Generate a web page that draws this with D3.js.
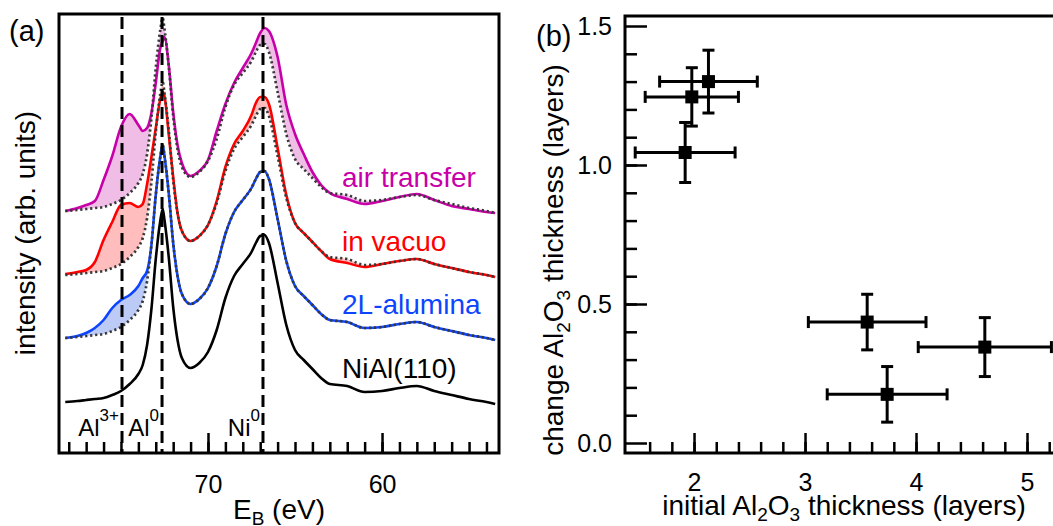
<!DOCTYPE html>
<html>
<head>
<meta charset="utf-8">
<script src="https://cdn.jsdelivr.net/npm/d3@7"></script>
<style>
body { margin: 0; background: #fff; }
text { font-family: "Liberation Sans", Arial, Helvetica, sans-serif; }
</style>
</head>
<body>
<svg id="chart" width="1053" height="526"></svg>
<script>
/* panel (a) data: binding energy (eV) and stacked intensities (arb. units) */
var energy = [78.2, 77.5, 77, 76.5, 76, 75.5, 75, 74.5, 74, 73.75, 73.5, 73.25, 73, 72.75, 72.6, 72.5, 72.25, 72, 71.75, 71.5,
	71, 70.5, 70, 69.5, 69, 68.5, 68, 67.5, 67.25, 67, 66.75, 66.5, 66, 65.5, 65, 64.5, 64, 63.5, 63, 62,
	61, 60, 59, 58, 57, 56, 55, 54, 53.5];
var nial = [51, 52, 53, 54, 55, 58, 62, 69, 79, 88, 108, 144, 194, 231, 244, 233, 195, 146, 113, 95,
	85, 90, 101, 123, 155, 177, 189, 201, 210, 217, 218, 210, 170, 128, 103, 93, 84, 75, 69, 67,
	61, 62, 65, 67, 62, 58, 54, 51, 49];
var alumina = [115, 117, 120, 125, 133, 145, 153, 158, 167, 175, 182, 208, 258, 295, 308, 297, 259, 210, 177, 159,
	149, 154, 165, 187, 219, 241, 253, 265, 274, 281, 282, 274, 234, 192, 167, 157, 148, 139, 133, 131,
	125, 126, 129, 131, 126, 122, 118, 115, 113];
var alumina_ref = [115, 116, 117, 118, 119, 122, 126, 133, 143, 152, 172, 208, 258, 295, 308, 297, 259, 210, 177, 159,
	149, 154, 165, 187, 219, 241, 253, 265, 274, 281, 282, 274, 234, 192, 167, 157, 148, 139, 133, 131,
	125, 126, 129, 131, 126, 122, 118, 115, 113];
var vacuo = [179, 181, 183, 191, 213, 231, 248, 250, 246, 249, 269, 296, 325, 353, 361, 357, 318, 276, 240, 222,
	212, 217, 228, 252, 286, 309, 322, 338, 350, 356, 356, 349, 305, 258, 230, 220, 211, 202, 194, 190,
	186, 189, 192, 194, 189, 185, 181, 178, 176];
var vacuo_ref = [178, 179, 180, 181, 182, 185, 189, 196, 206, 215, 235, 271, 321, 358, 371, 360, 322, 273, 240, 222,
	212, 217, 228, 250, 282, 304, 316, 328, 337, 344, 345, 337, 297, 255, 230, 220, 211, 202, 196, 194,
	188, 189, 192, 194, 189, 185, 181, 178, 176];
var air = [242, 245, 248, 252, 273, 297, 326, 339, 328, 322, 325, 340, 370, 404, 412, 416, 387, 341, 308, 290,
	277, 282, 293, 322, 349, 370, 385, 400, 410, 420, 425, 422, 396, 348, 319, 299, 281, 268, 260, 254,
	249, 252, 256, 259, 253, 247, 244, 241, 240];
var air_ref = [242, 243, 244, 245, 246, 249, 253, 260, 270, 279, 299, 335, 385, 422, 435, 424, 386, 337, 304, 286,
	276, 281, 292, 314, 346, 368, 380, 392, 401, 408, 409, 401, 361, 319, 294, 284, 275, 266, 260, 258,
	252, 253, 256, 258, 253, 249, 245, 242, 240];
var seriesNames = ['air transfer', 'in vacuo', '2L-alumina', 'NiAl(110)'];
var peakEnergy = [74.94, 72.64, 66.84];
var peakName = ['Al', 'Al', 'Ni'];
var peakSup = ['3+', '0', '0'];
var energyTicks = [70, 60];

/* panel (b) data */
var initialThk = [2.13, 1.98, 1.92, 3.56, 3.74, 4.62];
var initialErr = [0.44, 0.42, 0.45, 0.53, 0.54, 0.60];
var changeThk = [1.30, 1.245, 1.045, 0.435, 0.175, 0.345];
var changeErr = [0.113, 0.105, 0.108, 0.10, 0.10, 0.106];
var thkTicks = [2, 3, 4, 5];
var changeTicks = [0.0, 0.5, 1.0, 1.5];

var svg = d3.select('#chart');

/* ---------- panel (a) ---------- */
var xa = d3.scaleLinear().domain([78.56, 53.28]).range([59, 499]);
var ya = d3.scaleLinear().domain([0, 439]).range([453, 14]);

var ga = svg.append('g');

function rows(solid, ref) {
	return energy.map(function (e, i) { return {e: e, s: solid[i], r: ref ? ref[i] : solid[i]}; });
}

var spectra = [
	{name: seriesNames[0], solid: air, ref: air_ref, color: '#c800a8', fill: '#efbde6', label: 187},
	{name: seriesNames[1], solid: vacuo, ref: vacuo_ref, color: '#ff0000', fill: '#ffbdbd', label: 251},
	{name: seriesNames[2], solid: alumina, ref: alumina_ref, color: '#0d45ff', fill: '#bccaf6', label: 314},
	{name: seriesNames[3], solid: nial, ref: null, color: '#000000', fill: null, label: 378}
];

var area = d3.area()
	.x(function (d) { return xa(d.e); })
	.y0(function (d) { return ya(d.r); })
	.y1(function (d) { return ya(d.s); })
	.curve(d3.curveMonotoneX);
var lineS = d3.line()
	.x(function (d) { return xa(d.e); })
	.y(function (d) { return ya(d.s); })
	.curve(d3.curveMonotoneX);
var lineR = d3.line()
	.x(function (d) { return xa(d.e); })
	.y(function (d) { return ya(d.r); })
	.curve(d3.curveMonotoneX);

spectra.forEach(function (sp) {
	var data = rows(sp.solid, sp.ref);
	if (sp.fill) {
		ga.append('path').datum(data).attr('d', area).attr('fill', sp.fill).attr('stroke', 'none');
	}
	ga.append('path').datum(data).attr('d', lineS)
		.attr('fill', 'none').attr('stroke', sp.color).attr('stroke-width', 2.6);
	if (sp.ref) {
		ga.append('path').datum(data).attr('d', lineR)
			.attr('fill', 'none').attr('stroke', '#383838').attr('stroke-width', 2.7)
			.attr('stroke-dasharray', '2.2,2.8');
	}
	ga.append('text')
		.attr('x', 342).attr('y', sp.label)
		.attr('font-size', 28).attr('fill', sp.color)
		.text(sp.name);
});

// peak position markers
peakEnergy.forEach(function (e, i) {
	ga.append('line')
		.attr('x1', xa(e)).attr('x2', xa(e))
		.attr('y1', 17).attr('y2', 452)
		.attr('stroke', '#000').attr('stroke-width', 3)
		.attr('stroke-dasharray', '12,6');
	var t = ga.append('text')
		.attr('x', xa(e) - 3).attr('y', 436)
		.attr('text-anchor', 'end')
		.attr('font-size', 24);
	t.append('tspan').text(peakName[i]);
	t.append('tspan').attr('font-size', 17).attr('dy', -15).text(peakSup[i]);
});

// energy axis
var axA = ga.append('g').attr('transform', 'translate(0,453)');
axA.append('g').call(d3.axisBottom(xa).tickValues(d3.range(54, 79)).tickSize(-11).tickFormat(''));
axA.append('g').call(d3.axisBottom(xa).tickValues(energyTicks).tickSize(-20).tickPadding(22).tickFormat(d3.format('d')));
axA.selectAll('.domain').remove();
axA.selectAll('line').attr('stroke-width', 2.5);
axA.selectAll('text').attr('font-size', 25).attr('font-family', null);

ga.append('rect')
	.attr('x', 59).attr('y', 14).attr('width', 440).attr('height', 439)
	.attr('fill', 'none').attr('stroke', '#000').attr('stroke-width', 3);

var xt = ga.append('text').attr('x', 279).attr('y', 519).attr('text-anchor', 'middle').attr('font-size', 28);
xt.append('tspan').text('E');
xt.append('tspan').attr('font-size', 19).attr('dy', 6).text('B');
xt.append('tspan').attr('dy', -6).text(' (eV)');

ga.append('text')
	.attr('transform', 'translate(35,233) rotate(-90)')
	.attr('text-anchor', 'middle').attr('font-size', 28)
	.text('intensity (arb. units)');

ga.append('text').attr('x', 9).attr('y', 41).attr('font-size', 29).text('(a)');

/* ---------- panel (b) ---------- */
var xb = d3.scaleLinear().domain([1.378, 5.3]).range([625, 1060.3]);
var yb = d3.scaleLinear().domain([0, 1.5]).range([443, 26]);
var gb = svg.append('g');

var axBx = gb.append('g').attr('transform', 'translate(0,453)');
axBx.append('g').call(d3.axisBottom(xb).tickValues(d3.range(1.6, 5.3, 0.2)).tickSize(-11).tickFormat(''));
axBx.append('g').call(d3.axisBottom(xb).tickValues(thkTicks).tickSize(-20).tickPadding(20).tickFormat(d3.format('d')));
var axBy = gb.append('g').attr('transform', 'translate(625,0)');
axBy.append('g').call(d3.axisLeft(yb).tickValues(d3.range(0.1, 1.5, 0.1)).tickSize(-12).tickFormat(''));
axBy.append('g').call(d3.axisLeft(yb).tickValues(changeTicks).tickSize(-22).tickPadding(13).tickFormat(d3.format('.1f')));
gb.selectAll('.domain').remove();
gb.selectAll('.tick line').attr('stroke-width', 2.5);
gb.selectAll('.tick text').attr('font-size', 25).attr('font-family', null);

gb.append('path')
	.attr('d', 'M1060,16H625V453H1060')
	.attr('fill', 'none').attr('stroke', '#000').attr('stroke-width', 3);

var pts = initialThk.map(function (x, i) {
	return {x: x, y: changeThk[i], ex: initialErr[i], ey: changeErr[i]};
});
var pg = gb.selectAll('.pt').data(pts).enter().append('g').attr('class', 'pt')
	.attr('stroke', '#000').attr('stroke-width', 3);
pg.append('line')
	.attr('x1', function (d) { return xb(d.x - d.ex); })
	.attr('x2', function (d) { return xb(d.x + d.ex); })
	.attr('y1', function (d) { return yb(d.y); })
	.attr('y2', function (d) { return yb(d.y); });
pg.append('line')
	.attr('x1', function (d) { return xb(d.x); })
	.attr('x2', function (d) { return xb(d.x); })
	.attr('y1', function (d) { return yb(d.y - d.ey); })
	.attr('y2', function (d) { return yb(d.y + d.ey); });
[-1, 1].forEach(function (s) {
	pg.append('line')
		.attr('x1', function (d) { return xb(d.x + s * d.ex); })
		.attr('x2', function (d) { return xb(d.x + s * d.ex); })
		.attr('y1', function (d) { return yb(d.y) - 6; })
		.attr('y2', function (d) { return yb(d.y) + 6; });
	pg.append('line')
		.attr('x1', function (d) { return xb(d.x) - 6; })
		.attr('x2', function (d) { return xb(d.x) + 6; })
		.attr('y1', function (d) { return yb(d.y + s * d.ey); })
		.attr('y2', function (d) { return yb(d.y + s * d.ey); });
});
pg.append('rect')
	.attr('x', function (d) { return xb(d.x) - 6.5; })
	.attr('y', function (d) { return yb(d.y) - 6.5; })
	.attr('width', 13).attr('height', 13)
	.attr('fill', '#000').attr('stroke', 'none');

var bx = gb.append('text').attr('x', 844).attr('y', 515).attr('text-anchor', 'middle').attr('font-size', 28);
bx.append('tspan').text('initial Al');
bx.append('tspan').attr('font-size', 19).attr('dy', 6).text('2');
bx.append('tspan').attr('dy', -6).text('O');
bx.append('tspan').attr('font-size', 19).attr('dy', 6).text('3');
bx.append('tspan').attr('dy', -6).text(' thickness (layers)');

var by = gb.append('text').attr('transform', 'translate(563,260) rotate(-90)')
	.attr('text-anchor', 'middle').attr('font-size', 28);
by.append('tspan').text('change Al');
by.append('tspan').attr('font-size', 19).attr('dy', 7).text('2');
by.append('tspan').attr('dy', -7).text('O');
by.append('tspan').attr('font-size', 19).attr('dy', 7).text('3');
by.append('tspan').attr('dy', -7).text(' thickness (layers)');

gb.append('text').attr('x', 536).attr('y', 46).attr('font-size', 29).text('(b)');
</script>
</body>
</html>
